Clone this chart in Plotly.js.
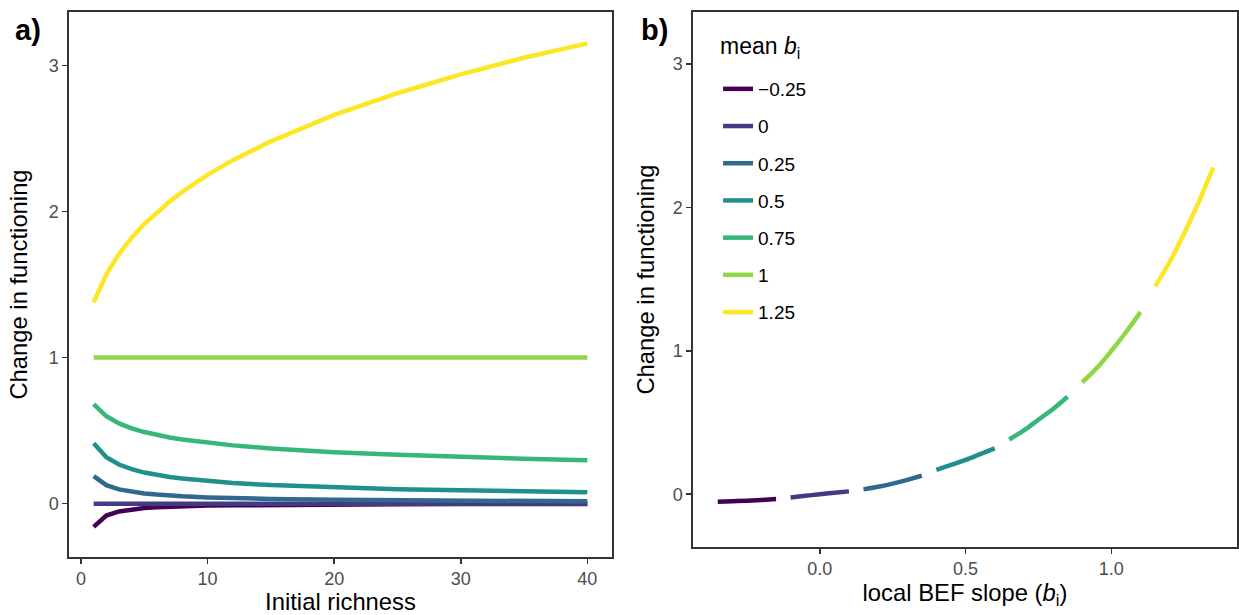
<!DOCTYPE html>
<html>
<head>
<meta charset="utf-8">
<script src="https://cdn.plot.ly/plotly-3.0.1.min.js"></script>
<style>html,body{margin:0;padding:0;background:#fff;}#chart{width:1239px;height:615px;}</style>
</head>
<body>
<div id="chart"></div>
<script>
// ---------- data ----------
const meanLabels = ['\u22120.25', '0', '0.25', '0.5', '0.75', '1', '1.25'];

// panel a: initial richness vs change in functioning
const richness = [1, 2, 3, 4, 5, 6, 7, 8, 10, 12, 15, 20, 25, 30, 35, 40];
const chg_m025 = [-0.159, -0.081, -0.053, -0.038, -0.030, -0.024, -0.020, -0.017, -0.013, -0.011, -0.008, -0.006, -0.004, -0.003, -0.003, -0.002];
const chg_000  = [0, 0, 0, 0, 0, 0, 0, 0, 0, 0, 0, 0, 0, 0, 0, 0];
const chg_025  = [0.189, 0.127, 0.098, 0.081, 0.070, 0.062, 0.055, 0.050, 0.043, 0.038, 0.032, 0.026, 0.022, 0.019, 0.017, 0.016];
const chg_050  = [0.414, 0.318, 0.268, 0.236, 0.213, 0.196, 0.183, 0.172, 0.154, 0.142, 0.127, 0.110, 0.099, 0.091, 0.084, 0.079];
const chg_075  = [0.682, 0.598, 0.549, 0.515, 0.490, 0.470, 0.453, 0.439, 0.417, 0.399, 0.378, 0.352, 0.334, 0.319, 0.307, 0.297];
const chg_100  = [1, 1, 1, 1, 1, 1, 1, 1, 1, 1, 1, 1, 1, 1, 1, 1];
const chg_125  = [1.378, 1.570, 1.709, 1.820, 1.914, 1.996, 2.068, 2.134, 2.250, 2.351, 2.480, 2.661, 2.809, 2.938, 3.052, 3.150];
const panelA = [chg_m025, chg_000, chg_025, chg_050, chg_075, chg_100, chg_125];

// panel b: local BEF slope vs change in functioning, one segment per mean b
const slope_m025 = [-0.35, -0.30, -0.25, -0.20, -0.15];
const slope_000  = [-0.10, -0.05, 0.00, 0.05, 0.10];
const slope_025  = [0.15, 0.20, 0.25, 0.30, 0.35];
const slope_050  = [0.40, 0.45, 0.50, 0.55, 0.60];
const slope_075  = [0.65, 0.70, 0.75, 0.80, 0.85];
const slope_100  = [0.90, 0.95, 1.00, 1.05, 1.10];
const slope_125  = [1.15, 1.20, 1.25, 1.30, 1.35];
const fn_m025 = [-0.053, -0.049, -0.045, -0.040, -0.034];
const fn_000  = [-0.022, -0.011, 0.000, 0.010, 0.020];
const fn_025  = [0.034, 0.052, 0.074, 0.100, 0.130];
const fn_050  = [0.170, 0.205, 0.240, 0.280, 0.320];
const fn_075  = [0.382, 0.445, 0.520, 0.595, 0.680];
const fn_100  = [0.780, 0.880, 1.000, 1.130, 1.270];
const fn_125  = [1.450, 1.620, 1.820, 2.040, 2.280];
const panelBx = [slope_m025, slope_000, slope_025, slope_050, slope_075, slope_100, slope_125];
const panelBy = [fn_m025, fn_000, fn_025, fn_050, fn_075, fn_100, fn_125];

// ---------- style ----------
const palette = ['#440154', '#443A83', '#31688E', '#21908C', '#35B779', '#8FD744', '#FDE725'];
const FONT = 'Liberation Sans, Arial, Helvetica, sans-serif';
const axisCol = '#333333';

const traces = [];
panelA.forEach((ys, i) => {
  traces.push({
    x: richness, y: ys, type: 'scatter', mode: 'lines',
    xaxis: 'x', yaxis: 'y', showlegend: false, hoverinfo: 'skip',
    line: {color: palette[i], width: 4.5}
  });
});
panelBx.forEach((xs, i) => {
  traces.push({
    x: xs, y: panelBy[i], type: 'scatter', mode: 'lines',
    xaxis: 'x2', yaxis: 'y2', name: meanLabels[i], legendgroup: 'g' + i,
    line: {color: palette[i], width: 4.5, shape: 'spline'}
  });
});

const baseAxis = {
  showgrid: false, zeroline: false, showline: true, mirror: true,
  linecolor: axisCol, linewidth: 1.6,
  ticks: 'outside', ticklen: 5, tickwidth: 1.5, tickcolor: axisCol,
  tickfont: {family: FONT, size: 18, color: '#4D4D4D'},
  automargin: false
};
const titleFont = {family: FONT, size: 23.8, color: '#000'};

const layout = {
  width: 1239, height: 615,
  margin: {l: 69, r: 2, t: 12, b: 58},
  paper_bgcolor: '#fff', plot_bgcolor: '#fff',
  font: {family: FONT},
  xaxis: Object.assign({}, baseAxis, {
    domain: [0, 0.4649], range: [-0.95, 41.95],
    tickvals: [0, 10, 20, 30, 40],
    title: {text: 'Initial richness', font: titleFont, standoff: 4}
  }),
  yaxis: Object.assign({}, baseAxis, {
    domain: [0, 1], range: [-0.365, 3.365], anchor: 'x',
    tickvals: [0, 1, 2, 3],
    title: {text: 'Change in functioning', font: titleFont, standoff: 14}
  }),
  xaxis2: Object.assign({}, baseAxis, {
    domain: [0.5342, 1], range: [-0.435, 1.431], anchor: 'y2',
    tickvals: [0, 0.5, 1], tickformat: '.1f',
    title: {text: 'local BEF slope (<i>b</i><sub>i</sub>)', font: titleFont, standoff: 4}
  }),
  yaxis2: Object.assign({}, baseAxis, {
    domain: [0.01835, 1], range: [-0.368, 3.364], anchor: 'x2',
    tickvals: [0, 1, 2, 3],
    title: {text: 'Change in functioning', font: titleFont, standoff: 11}
  }),
  showlegend: true,
  legend: {
    x: 0.5557, y: 0.8936, xanchor: 'left', yanchor: 'top',
    bgcolor: 'rgba(255,255,255,0)', borderwidth: 0,
    font: {family: FONT, size: 19, color: '#000'},
    tracegroupgap: 9.5, itemwidth: 30, traceorder: 'grouped'
  },
  annotations: [
    {text: '<b>a)</b>', xref: 'paper', yref: 'paper', x: -0.0476, y: 1.0, xanchor: 'left', yanchor: 'top',
     showarrow: false, font: {family: FONT, size: 29, color: '#000'}},
    {text: '<b>b)</b>', xref: 'paper', yref: 'paper', x: 0.4884, y: 1.0, xanchor: 'left', yanchor: 'top',
     showarrow: false, font: {family: FONT, size: 29, color: '#000'}},
    {text: 'mean <i>b</i><sub>i</sub>', xref: 'paper', yref: 'paper', x: 0.5557, y: 0.934, xanchor: 'left', yanchor: 'middle',
     showarrow: false, font: {family: FONT, size: 23, color: '#000'}}
  ]
};

Plotly.newPlot('chart', traces, layout, {displayModeBar: false, staticPlot: true});
</script>
</body>
</html>
